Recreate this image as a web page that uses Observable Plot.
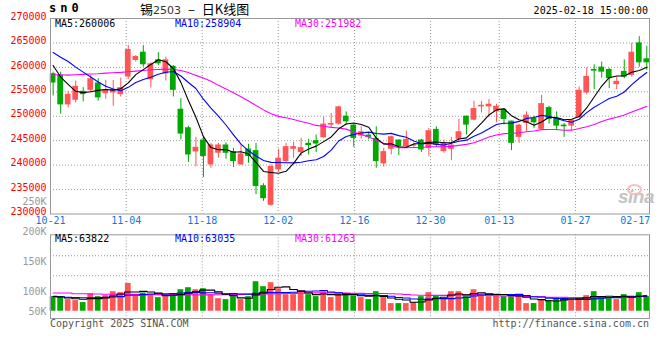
<!DOCTYPE html>
<html>
<head>
<meta charset="utf-8">
<script src="https://cdn.jsdelivr.net/npm/d3@7"></script>
<script src="https://cdn.jsdelivr.net/npm/@observablehq/plot@0.6"></script>
<style>
  html, body { margin: 0; padding: 0; background: #fff; }
  #chart { position: relative; width: 660px; height: 360px; background: #fff; overflow: hidden;
           font-family: "DejaVu Sans Mono", "Liberation Mono", monospace; font-size: 10px; }
  .abs { position: absolute; white-space: nowrap; line-height: 12px; }
</style>
</head>
<body>
<div id="chart">
  <div id="main" class="abs" style="left:0;top:0"></div>
  <div id="vol" class="abs" style="left:0;top:190px"></div>
</div>
<script>
// ---------------- data ----------------
const symbol = "s n 0";
const titleName = "锡";
const titleCode = "2503";
const titleRest = "日K线图";
const timestamp = "2025-02-18 15:00:00";
const priceLegend = ["MA5:260006", "MA10:258904", "MA30:251982"];
const volLegend = ["MA5:63822", "MA10:63035", "MA30:61263"];
const footLeft = "Copyright 2025 SINA.COM";
const footRight = "http://finance.sina.com.cn";

const dateLabels = ["10-21","11-04","11-18","12-02","12-16","12-30","01-13","01-27","02-17"];
const dateTickPos = [-0.35, 9.72, 19.84, 29.95, 40.11, 50.22, 59.36, 69.52, 77.46];
const gridPos = [9.72, 19.84, 29.95, 40.11, 50.22, 59.36, 69.52];

const priceTicks = [230000,235000,240000,245000,250000,255000,260000,265000,270000];
const priceGrid = [235000,240000,245000,250000,255000,260000,265000];

const volTickVals = [455000, 330700, 206200, 81700, -1200];
const volTickLabels = ["250K","200K","150K","100K","50K"];
const volGrid = [231000, 148000];

const opens = [258700,258350,252320,253270,255100,255300,256800,254630,254760,254420,
 258020,261410,263100,257470,261540,258660,260190,251440,247640,242690,
 245140,240050,242430,244120,242760,240050,243300,242970,235780,231780,
 239030,240730,243240,242560,244460,245000,245610,248190,248390,250020,
 248190,245950,246150,245470,240250,243240,245140,243780,243900,245140,
 243440,247310,242760,243240,245270,250020,249200,251920,251920,250900,
 251440,249000,245680,248530,249540,247310,251780,249540,248190,247980,
 249750,254760,259580,260050,259580,256460,259170,258360,265000,261750];
const highs = [259030,259030,255100,257200,255850,258360,257680,257340,257340,257810,
 264460,262420,264460,260930,262970,262090,260390,253610,247980,245680,
 245680,244460,244460,244590,243440,244120,244250,244460,236190,240050,
 243240,244460,244660,245470,245270,246150,249750,250560,252050,250900,
 248320,247850,246630,247850,243440,245950,245140,246970,244500,245270,
 247510,247850,245140,245680,249340,250020,253070,253070,253410,252460,
 251580,249000,248390,250900,250020,254290,252050,250900,248530,249340,
 255980,259850,260540,261070,259780,258020,261540,264930,266290,264320];
const lows = [254150,250420,251710,252730,252930,254830,253070,253470,252050,253950,
 257540,261070,260050,255780,260390,257220,253950,245140,240520,239660,
 237470,239370,241410,241200,239510,239950,240390,233950,232590,231580,
 238490,240390,241410,241750,242080,242560,245470,247510,248190,248190,
 243640,245340,245140,239370,239580,242080,241950,243440,243500,242560,
 241750,243640,242420,240930,245000,246150,249070,250690,249750,248660,
 248190,242970,244460,246830,247510,247170,248390,247030,245680,247030,
 249540,254420,255440,257810,255640,255440,257680,258020,260050,259400];
const closes = [256800,252320,254490,256120,254420,257680,253750,255440,255440,255850,
 263640,262220,260530,260730,260730,261540,255300,246360,242080,243640,
 241750,244120,244120,242420,240730,242290,241750,235640,233130,239710,
 241410,243780,243780,243580,243980,244320,248390,248530,251920,248860,
 245470,246830,245680,240730,242760,245810,243780,245270,244100,243100,
 247030,244120,244590,244120,246830,248190,251580,252250,252460,252050,
 249340,244460,248190,250220,248660,252590,249340,247980,247850,249200,
 255310,258150,259240,259030,257680,257140,258020,263100,260930,260930];
const volumes = [60700,60700,48300,44200,35900,73100,60700,64900,81400,77300,
 116000,62000,76000,69000,56600,60700,69000,89700,98000,89700,
 93800,69000,52400,48300,60700,48300,60700,122800,102100,118700,
 93800,69000,69000,77300,69000,60700,81400,56600,73100,73100,
 63500,56600,48300,81400,56600,31700,31700,31700,35900,60700,
 77300,64900,52400,81400,81400,60700,89700,69000,60700,69000,
 60700,69000,60700,31700,31700,48300,44200,56600,56600,48300,
 52400,64900,81400,60700,52400,48300,69000,63500,77300,60700];

const ma5Head = [260390,258020,256530,255100];
const ma10Head = [263030,262090,261200,260050,259030,258020,257000,256120,255580];
const ma30Head = [258490,258490,258420,258490,258560,258630,258700,258830,258900,258970,
 259100,259240,259370,259510,259580,259640,259580,259370,258970,258360,
 257810,257140,256320,255600,254800,254000,253100,252200,251300];
const volMa5Head = [62000,59000,55000,52000];
const volMa10Head = [61000,60000,58000,57000,56000,56000,57000,58000,59000];
const volMa30Head = [76000,76000,76000,73000,73000,72000,72000,71000,71000,70000,
 70000,70000,69000,69000,69000,69000,69000,68500,68500,68000,
 68000,68000,68500,69000,69500,70000,70500,71000,71500];

// ---------------- derived ----------------
const RED = "#ff5555", GREEN = "#00a800";
const N = closes.length;
const idx = d3.range(N);
const candles = idx.map(k => {
  const o = opens[k], c = closes[k];
  let lo = Math.min(o, c), hi = Math.max(o, c);
  if (hi - lo < 200) { const m = (hi + lo) / 2; lo = m - 100; hi = m + 100; }
  return {k, o, c, h: highs[k], l: lows[k], lo, hi, v: volumes[k], color: c >= o ? RED : GREEN};
});
function ma(arr, n, head) {
  return arr.map((_, i) => i < n - 1 ? head[i] : d3.mean(arr.slice(i - n + 1, i + 1)));
}
const m5 = ma(closes, 5, ma5Head), m10 = ma(closes, 10, ma10Head), m30 = ma(closes, 30, ma30Head);
const v5 = ma(volumes, 5, volMa5Head), v10 = ma(volumes, 10, volMa10Head), v30 = ma(volumes, 30, volMa30Head);

const dateMap = new Map(dateTickPos.map((p, k) => [p, dateLabels[k]]));
const volMap = new Map(volTickVals.map((p, k) => [p, volTickLabels[k]]));
const HW = 0.38;
const grid = {stroke: "#9a9a9a", strokeDasharray: "1,2", strokeWidth: 1};
const font = {fontFamily: "DejaVu Sans Mono", fontSize: "10px", background: "transparent", overflow: "visible"};
const xDomain = [-0.35, 79.36];

// ---------------- main price panel ----------------
const main = Plot.plot({
  width: 660, height: 230,
  marginLeft: 50, marginRight: 11, marginTop: 18, marginBottom: 16.5,
  style: font,
  x: {domain: xDomain, axis: null, label: null},
  y: {domain: [230000, 270000], axis: null, label: null},
  marks: [
    Plot.ruleY(priceGrid, grid),
    Plot.ruleX(gridPos, grid),
    Plot.ruleX(candles, {x: d => d.k, y1: d => d.l, y2: d => d.h, stroke: d => d.color, strokeWidth: 1}),
    Plot.rect(candles, {x1: d => d.k - HW, x2: d => d.k + HW, y1: d => d.lo, y2: d => d.hi, fill: d => d.color}),
    Plot.line(idx, {x: d => d, y: d => m30[d], stroke: "#ff00ff", strokeWidth: 1.1}),
    Plot.line(idx, {x: d => d, y: d => m10[d], stroke: "#0000ff", strokeWidth: 1.1}),
    Plot.line(idx, {x: d => d, y: d => m5[d], stroke: "#000000", strokeWidth: 1.1}),
    Plot.frame({stroke: "#999"}),
    Plot.axisY({ticks: priceTicks, label: null, tickSize: 0, tickPadding: 4, dy: -2, tickFormat: d => String(d), fill: "#ff0000", color: "#ff0000"}),
    Plot.axisX({ticks: dateTickPos, label: null, tickSize: 0, tickPadding: 3, tickFormat: d => dateMap.get(d), fill: "#1177dd", color: "#1177dd"})
  ]
});
document.getElementById("main").appendChild(main);

// ---------------- volume panel ----------------
const vol = Plot.plot({
  width: 660, height: 140,
  marginLeft: 50, marginRight: 11, marginTop: 44.3, marginBottom: 12,
  style: font,
  x: {domain: xDomain, axis: null, label: null},
  y: {domain: [-30300, 318300], axis: null, label: null},
  marks: [
    Plot.ruleY(volGrid, grid),
    Plot.ruleX(gridPos, grid),
    Plot.rect(candles, {x1: d => d.k - HW, x2: d => d.k + HW, y1: 0, y2: d => d.v, fill: d => d.color}),
    Plot.line(idx, {x: d => d, y: d => v30[d], stroke: "#ff00ff", strokeWidth: 1.1, curve: "step"}),
    Plot.line(idx, {x: d => d, y: d => v10[d], stroke: "#0000ff", strokeWidth: 1.1, curve: "step"}),
    Plot.line(idx, {x: d => d, y: d => v5[d], stroke: "#000000", strokeWidth: 1.1, curve: "step"}),
    Plot.frame({stroke: "#999"}),
    Plot.axisY({ticks: volTickVals, label: null, tickSize: 0, tickPadding: 4, tickFormat: d => volMap.get(d), fill: "#999", color: "#999"})
  ]
});
document.getElementById("vol").appendChild(vol);

// ---------------- text overlays ----------------
const chart = document.getElementById("chart");
function addText(txt, left, top, style) {
  const el = document.createElement("div");
  el.className = "abs";
  el.textContent = txt;
  el.style.left = left + "px";
  el.style.top = top + "px";
  Object.assign(el.style, style || {});
  chart.appendChild(el);
  return el;
}
addText(symbol.replace(/ /g, ""), 49, 2, {fontSize: "12px", fontWeight: "bold", letterSpacing: "4px", color: "#000"});
// title: name + code + dash + rest
const t = document.createElement("div");
t.className = "abs";
Object.assign(t.style, {left: "140px", top: "1px", fontFamily: "'Noto Sans CJK SC', sans-serif", fontSize: "13px", lineHeight: "15px", color: "#000"});
const s1 = document.createElement("span"); s1.textContent = titleName;
const s2 = document.createElement("span"); s2.textContent = titleCode;
Object.assign(s2.style, {fontFamily: "'DejaVu Sans', sans-serif", fontSize: "11px", color: "#333"});
const s3 = document.createElement("span"); s3.textContent = " – ";
Object.assign(s3.style, {wordSpacing: "2px", margin: "0 2px"});
const s4 = document.createElement("span"); s4.textContent = titleRest;
t.append(s1, s2, s3, s4);
chart.appendChild(t);
addText(timestamp, 0, 5, {left: "auto", right: "12px", color: "#000"});
const legendX = [55, 175, 295];
const legendColors = ["#000000", "#0000ff", "#ff00ff"];
priceLegend.forEach((txt, k) => addText(txt, legendX[k], 17.5, {color: legendColors[k]}));
volLegend.forEach((txt, k) => addText(txt, legendX[k], 232.5, {color: legendColors[k]}));
addText(footLeft, 50, 317.5, {color: "#555"});
addText(footRight, 0, 317.5, {left: "auto", right: "11px", color: "#555"});
// watermark
addText("sina", 618, 188, {fontFamily: "'Liberation Sans', sans-serif", fontStyle: "italic", fontWeight: "bold", fontSize: "19px", color: "#c4c4c4", lineHeight: "18px", letterSpacing: "-0.5px"});
const eye = document.createElement("div");
eye.className = "abs";
Object.assign(eye.style, {left: "627px", top: "184px", width: "11px", height: "7px", border: "2px solid #f2c0c0", borderRadius: "50%"});
chart.appendChild(eye);
</script>
</body>
</html>
